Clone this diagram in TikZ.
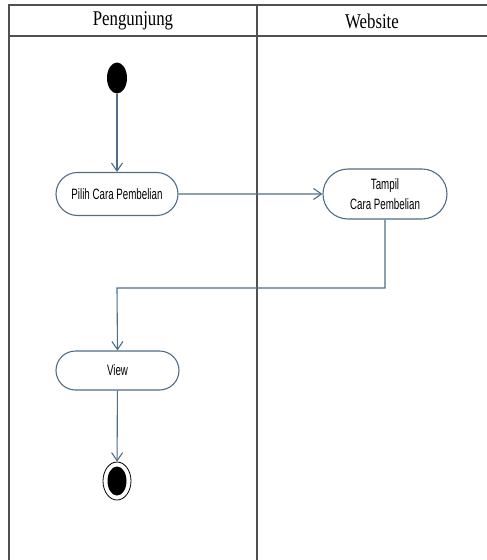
\documentclass[tikz,border=0pt]{standalone}
\usepackage{fontspec}
\usetikzlibrary{arrows.meta,shapes.misc,shapes.geometric}
\newfontfamily\lanefont[FakeStretch=0.8]{Liberation Serif}
\newfontfamily\actfont[FakeStretch=0.65]{Liberation Sans}
\definecolor{flow}{HTML}{4F6D87}
\definecolor{frame}{HTML}{505050}
\begin{document}
\begin{tikzpicture}[x=1pt,y=-1pt,
  lane/.style={draw=frame,line width=2pt},
  lanehead/.style={font=\lanefont\fontsize{21}{24}\selectfont,inner sep=0pt},
  action/.style={rounded rectangle,draw=flow,line width=1.1pt,fill=white,
    font=\actfont\fontsize{15}{20}\selectfont,align=center,inner sep=0pt},
  flowline/.style={draw=flow,line width=1.1pt},
  arr/.style={flowline,-{Straight Barb[length=8pt,width=11pt]}}]
\useasboundingbox (0,0) rectangle (487,560);
% swimlane frame
\draw[lane] (487,5) -- (8.5,5) -- (8.5,560);
\draw[lane] (8.5,36) -- (487,36);
\draw[lane] (257,5) -- (257,560);
\node[lanehead] (h1) at (133,21) {Pengunjung};
\node[lanehead] (h2) at (372,21) {Website};
% activity nodes
\node[ellipse,fill=black,minimum width=20pt,minimum height=31pt,inner sep=0pt] (start) at (117,78) {};
\node[action,minimum width=122pt,minimum height=43pt] (pilih) at (117,194) {Pilih Cara Pembelian};
\node[action,minimum width=124pt,minimum height=50pt] (tampil) at (385,194) {Tampil\\Cara Pembelian};
\node[action,minimum width=123pt,minimum height=39pt] (view) at (117.5,370.5) {View};
\node[ellipse,draw=black,line width=0.8pt,fill=white,minimum width=28pt,minimum height=38pt,inner sep=0pt] (end) at (117,481) {};
\node[ellipse,fill=black,minimum width=19pt,minimum height=29pt,inner sep=0pt] (endcore) at (end) {};
\coordinate (bend) at (117,288);
% control flow
\draw[arr] (start) -- (pilih);
\draw[arr] (pilih) -- (tampil);
\draw[arr] (tampil.south) |- (bend) -- (view.north);
\draw[arr] (view) -- (end);
\end{tikzpicture}
\end{document}
